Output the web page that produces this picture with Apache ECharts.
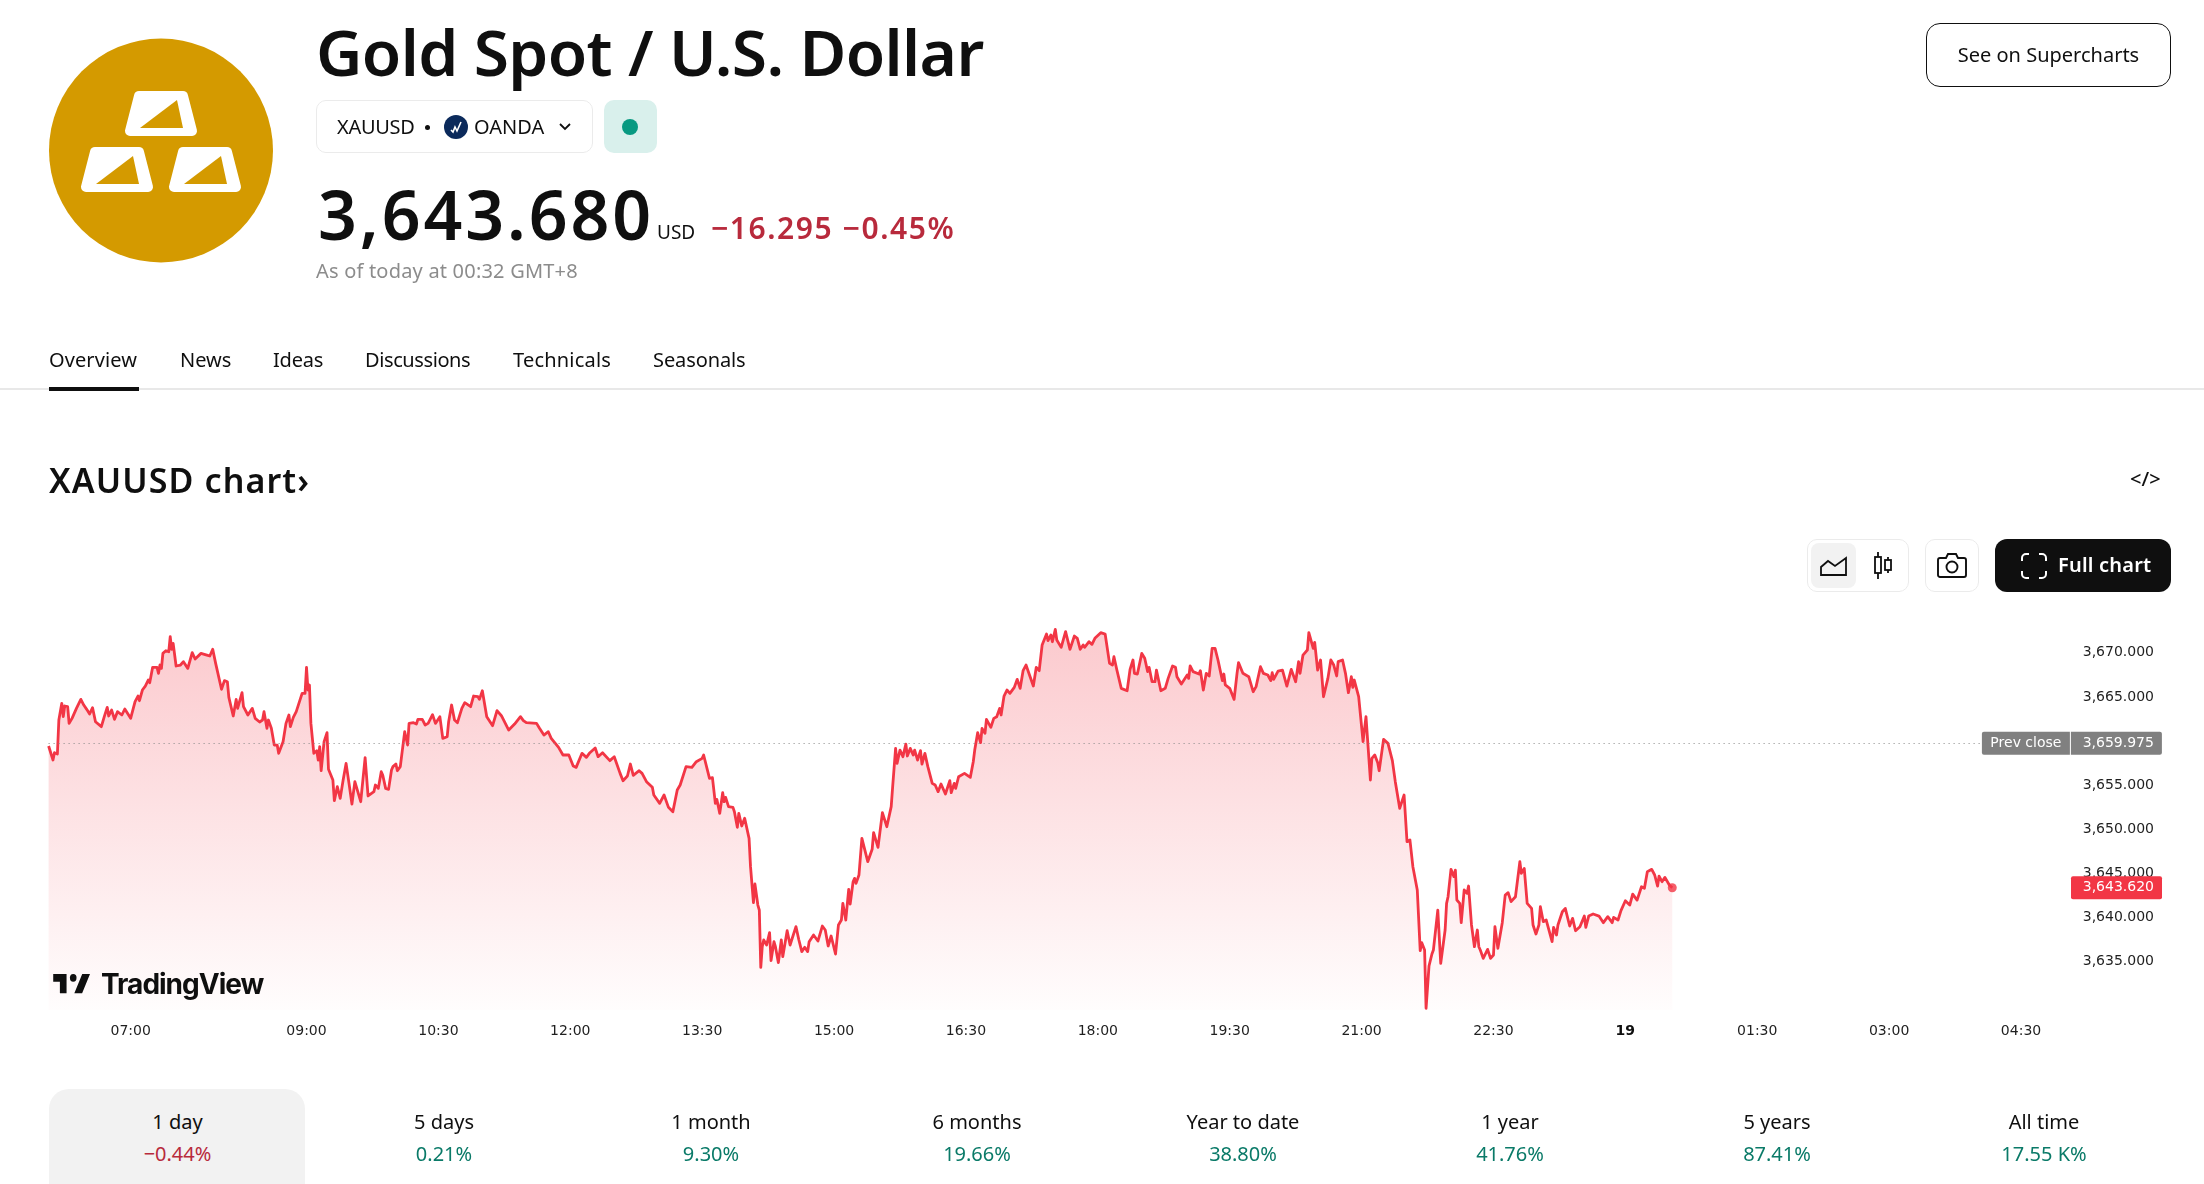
<!DOCTYPE html>
<html><head><meta charset="utf-8">
<script src="https://cdn.jsdelivr.net/npm/echarts@6/dist/echarts.min.js"></script>
<style>
html,body{margin:0;padding:0;background:#fff;width:2204px;height:1184px;overflow:hidden}
#chart{position:absolute;left:0;top:0;width:2204px;height:1184px}
#page{position:absolute;left:0;top:0;width:2204px;height:1184px;pointer-events:none;font-family:"Noto Sans",sans-serif;color:#0f0f0f}
.t{position:absolute;white-space:nowrap}
.box{position:absolute;box-sizing:border-box}
svg{position:absolute;overflow:visible}
</style></head><body>
<div id="chart"></div>
<div id="page">
<svg style="left:49px;top:38px" width="224" height="225" viewBox="0 0 224 225">
 <circle cx="112" cy="112.5" r="112" fill="#d49a00"/>
 <g transform="translate(76,53)"><path d="M14 5H58L67 40H5Z" fill="#fff" stroke="#fff" stroke-width="10" stroke-linejoin="round"/><path d="M52 9 58 37H15Z" fill="#d49a00"/></g>
 <g transform="translate(32,109)"><path d="M14 5H58L67 40H5Z" fill="#fff" stroke="#fff" stroke-width="10" stroke-linejoin="round"/><path d="M52 9 58 37H15Z" fill="#d49a00"/></g>
 <g transform="translate(120,109)"><path d="M14 5H58L67 40H5Z" fill="#fff" stroke="#fff" stroke-width="10" stroke-linejoin="round"/><path d="M52 9 58 37H15Z" fill="#d49a00"/></g>
</svg>
<div class="t" style="left:316px;top:8px;font-size:64px;line-height:88px;font-weight:600;letter-spacing:-.62px">Gold Spot / U.S. Dollar</div>
<div class="box" style="left:316px;top:100px;width:277px;height:53px;border:1px solid #ebebeb;border-radius:10px"></div>
<div class="t" style="left:337px;top:112px;font-size:20px;line-height:30px;letter-spacing:-.3px">XAUUSD</div>
<div class="box" style="left:425px;top:125px;width:5px;height:5px;border-radius:50%;background:#0f0f0f"></div>
<svg style="left:444px;top:115px" width="24" height="24"><circle cx="12" cy="12" r="12" fill="#0b2a5b"/><path d="M7 15l2 2 2-5 2 4 4-9" fill="none" stroke="#fff" stroke-width="1.6"/></svg>
<div class="t" style="left:474px;top:112px;font-size:20px;line-height:30px">OANDA</div>
<svg style="left:558px;top:121px" width="14" height="12"><path d="M2 3l5 5 5-5" fill="none" stroke="#0f0f0f" stroke-width="1.8"/></svg>
<div class="box" style="left:604px;top:100px;width:53px;height:53px;background:#d9f0ec;border-radius:10px"></div>
<div class="box" style="left:622px;top:119px;width:16px;height:16px;border-radius:50%;background:#089981"></div>
<div class="t" style="left:318px;top:167px;font-size:68px;line-height:94px;font-weight:600;letter-spacing:2.9px">3,643.680</div>
<div class="t" style="left:657px;top:217px;font-size:19px;line-height:30px">USD</div>
<div class="t" style="left:711px;top:206px;font-size:30px;line-height:44px;font-weight:600;letter-spacing:1.55px;color:#b82a3c">−16.295 −0.45%</div>
<div class="t" style="left:316px;top:256px;font-size:20px;line-height:30px;letter-spacing:.2px;color:#8c8c8c">As of today at 00:32 GMT+8</div>
<div class="t" style="left:49px;top:344.5px;font-size:20px;line-height:30px;letter-spacing:.1px">Overview</div>
<div class="t" style="left:180px;top:344.5px;font-size:20px;line-height:30px">News</div>
<div class="t" style="left:273px;top:344.5px;font-size:20px;line-height:30px;letter-spacing:-.2px">Ideas</div>
<div class="t" style="left:365px;top:344.5px;font-size:20px;line-height:30px;letter-spacing:-.4px">Discussions</div>
<div class="t" style="left:513px;top:344.5px;font-size:20px;line-height:30px;letter-spacing:.2px">Technicals</div>
<div class="t" style="left:653px;top:344.5px;font-size:20px;line-height:30px;letter-spacing:-.1px">Seasonals</div>
<div class="box" style="left:0;top:388px;width:2204px;height:2px;background:#e8e8e8"></div>
<div class="box" style="left:49px;top:387px;width:90px;height:4px;background:#0f0f0f"></div>
<div class="t" style="left:49px;top:457px;font-size:34px;line-height:46px;font-weight:600;letter-spacing:1.1px">XAUUSD chart›</div>
<div class="t" style="left:2130px;top:464px;font-size:20px;line-height:30px;font-weight:500">&lt;/&gt;</div>
<div class="box" style="left:1926px;top:23px;width:245px;height:64px;border:1.5px solid #0f0f0f;border-radius:14px"></div>
<div class="t" style="left:1926px;top:40px;width:245px;text-align:center;font-size:20px;line-height:30px">See on Supercharts</div>
<div class="box" style="left:1807px;top:539px;width:102px;height:53px;border:1px solid #ebebeb;border-radius:10px"></div>
<div class="box" style="left:1811px;top:543px;width:45px;height:45px;background:#f2f2f2;border-radius:8px"></div>
<svg style="left:1820px;top:556px" width="28" height="20" fill="none" stroke="#0f0f0f" stroke-width="1.8"><path d="M1 19V11L8 5l7 5 11-8v17Z"/></svg>
<svg style="left:1873px;top:552px" width="20" height="28" fill="none" stroke="#0f0f0f" stroke-width="1.8"><path d="M5 0v27M15 5v16"/><rect x="2" y="5" width="6" height="16" fill="#fff"/><rect x="12" y="8" width="6" height="10" fill="#fff"/></svg>
<div class="box" style="left:1925px;top:539px;width:54px;height:53px;border:1px solid #ebebeb;border-radius:10px"></div>
<svg style="left:1937px;top:553px" width="30" height="26" fill="none" stroke="#0f0f0f" stroke-width="1.9"><path d="M3 5h6l2-4h8l2 4h6a2 2 0 0 1 2 2v15a2 2 0 0 1-2 2H3a2 2 0 0 1-2-2V7a2 2 0 0 1 2-2Z"/><circle cx="15" cy="14" r="5.5"/></svg>
<div class="box" style="left:1995px;top:539px;width:176px;height:53px;background:#0f0f0f;border-radius:12px"></div>
<svg style="left:2021px;top:553px" width="26" height="26" fill="none" stroke="#fff" stroke-width="2"><path d="M1 8V5a4 4 0 0 1 4-4h3M18 1h3a4 4 0 0 1 4 4v3M25 18v3a4 4 0 0 1-4 4h-3M8 25H5a4 4 0 0 1-4-4v-3"/></svg>
<div class="t" style="left:2058px;top:550px;font-size:20px;line-height:30px;font-weight:600;letter-spacing:.2px;color:#fff">Full chart</div>
<svg style="left:51px;top:974px" width="40" height="20" viewBox="0 6 36 15.5" preserveAspectRatio="none" fill="#0f0f0f"><path d="M14 6H2v6h6v9h6V6Zm14 15h-7l7.1-15h7L28 21Z"/><circle cx="20" cy="9" r="3"/></svg>
<div class="t" style="left:101px;top:964px;font-family:Inter,sans-serif;font-size:28px;line-height:40px;font-weight:700;letter-spacing:-1px">TradingView</div>
<div class="box" style="left:49px;top:1089px;width:256px;height:120px;background:#f2f2f2;border-radius:20px"></div>
<div id="periods"></div>
</div>
<script>
// [minutes since midnight of 18th (GMT+8), price]
const pricePoints = [
[364,3659.67],[367,3658.08],[368,3658.91],[370,3658.76],[371,3662.61],[373,3664.50],[374,3662.99],[375,3664.20],[377,3664.12],[378,3662.23],
[380,3662.80],[381,3662.61],[383,3663.93],[386,3664.95],[388,3664.31],[390,3663.82],[392,3663.29],[394,3664.01],[396,3662.42],[400,3661.86],
[402,3662.99],[404,3664.05],[405,3663.07],[407,3663.74],[409,3662.69],[411,3663.56],[414,3663.18],[416,3663.86],[420,3662.80],[421,3662.99],
[423,3664.69],[425,3665.33],[426,3664.80],[428,3666.01],[430,3666.46],[432,3667.14],[433,3666.84],[435,3668.58],[438,3668.58],[439,3667.90],
[440,3668.84],[441,3668.46],[442,3670.16],[444,3670.46],[446,3670.35],[447,3672.05],[448,3670.62],[449,3671.29],[451,3668.73],[454,3668.84],
[456,3669.22],[459,3668.46],[462,3670.24],[464,3669.52],[468,3670.16],[472,3669.97],[474,3669.86],[476,3670.62],[478,3669.03],[479,3668.84],
[482,3666.09],[484,3667.07],[486,3666.95],[487,3665.18],[490,3663.07],[492,3664.95],[493,3663.93],[496,3665.71],[497,3664.12],[500,3663.18],
[503,3663.93],[505,3662.80],[508,3662.39],[510,3662.61],[511,3663.56],[513,3661.67],[514,3662.61],[516,3661.67],[518,3659.78],[520,3659.78],
[521,3658.84],[524,3660.16],[526,3662.23],[528,3663.18],[529,3661.86],[531,3662.91],[533,3663.56],[537,3665.63],[539,3665.63],[540,3668.58],
[541,3666.01],[542,3666.58],[543,3662.23],[545,3658.84],[547,3659.14],[548,3658.08],[549,3659.59],[550,3656.87],[552,3660.16],[554,3661.18],
[555,3657.03],[556,3656.95],[558,3655.82],[559,3653.48],[561,3655.06],[563,3653.74],[565,3655.82],[567,3657.70],[569,3655.44],[571,3653.10],
[573,3655.63],[575,3654.50],[577,3653.36],[580,3658.35],[582,3654.01],[586,3654.50],[587,3655.25],[589,3654.87],[591,3656.76],[592,3656.38],
[594,3654.87],[596,3654.76],[598,3656.95],[599,3657.33],[601,3657.63],[602,3656.87],[604,3657.33],[607,3661.29],[609,3659.78],[610,3662.23],
[613,3662.31],[615,3662.16],[616,3662.69],[619,3662.69],[621,3662.05],[623,3662.23],[626,3663.22],[628,3662.23],[631,3662.99],[633,3660.54],
[636,3660.72],[637,3662.42],[639,3664.31],[641,3662.61],[643,3662.31],[646,3663.93],[648,3664.58],[652,3664.12],[654,3665.33],[657,3665.25],
[658,3664.95],[660,3665.93],[663,3662.99],[667,3661.97],[670,3663.67],[673,3663.10],[678,3661.48],[682,3662.16],[686,3662.99],[688,3662.54],
[690,3662.31],[697,3662.23],[699,3661.67],[702,3660.91],[705,3661.29],[707,3660.54],[712,3659.52],[715,3658.65],[719,3658.65],[722,3657.40],
[724,3657.25],[728,3658.84],[731,3658.38],[733,3658.84],[737,3659.44],[739,3658.46],[742,3658.91],[747,3658.01],[750,3658.46],[754,3656.57],
[756,3655.74],[759,3656.27],[761,3657.63],[763,3656.35],[767,3656.87],[769,3656.57],[772,3655.63],[776,3654.99],[777,3654.12],[781,3653.17],
[784,3654.12],[787,3652.72],[790,3652.23],[791,3652.42],[793,3654.68],[795,3655.25],[799,3657.33],[803,3657.25],[806,3657.89],[810,3658.27],
[811,3658.65],[812,3658.54],[815,3656.01],[817,3656.08],[819,3653.17],[820,3653.63],[822,3652.04],[824,3654.38],[825,3653.36],[826,3653.85],
[828,3652.80],[831,3652.72],[832,3652.23],[834,3650.46],[835,3652.04],[837,3650.61],[839,3651.48],[842,3649.21],[843,3646.00],[845,3641.93],
[846,3644.04],[848,3641.66],[849,3641.09],[850,3634.60],[851,3636.94],[852,3637.70],[854,3637.13],[856,3638.53],[857,3635.36],[859,3637.51],
[860,3636.94],[862,3635.13],[863,3635.24],[864,3637.70],[865,3635.81],[868,3638.75],[870,3637.13],[874,3639.21],[876,3637.70],[878,3636.38],
[880,3636.87],[882,3636.38],[883,3637.51],[886,3638.26],[889,3637.58],[892,3639.28],[894,3638.83],[896,3637.02],[898,3638.15],[901,3636.11],
[903,3639.40],[905,3639.96],[906,3641.85],[908,3639.96],[910,3643.44],[911,3641.77],[913,3644.30],[914,3644.68],[915,3644.11],[917,3645.06],
[919,3649.21],[920,3649.10],[923,3646.57],[926,3647.97],[927,3649.85],[928,3649.85],[930,3648.19],[933,3652.12],[936,3650.53],[939,3652.80],
[940,3655.06],[942,3659.40],[943,3657.70],[945,3659.21],[947,3658.46],[949,3659.89],[950,3658.54],[952,3659.40],[954,3658.65],[955,3659.21],
[957,3658.08],[959,3659.14],[960,3657.63],[962,3658.84],[964,3657.33],[967,3655.44],[969,3655.25],[971,3654.50],[973,3655.36],[976,3654.23],
[979,3655.74],[980,3654.38],[982,3655.44],[983,3654.87],[985,3656.19],[989,3656.57],[993,3656.12],[995,3657.89],[996,3659.21],[998,3661.18],
[1000,3660.05],[1001,3661.67],[1003,3661.10],[1004,3662.69],[1007,3661.78],[1009,3662.80],[1011,3662.99],[1013,3663.93],[1014,3663.18],[1016,3665.33],
[1018,3666.01],[1020,3665.63],[1023,3666.31],[1025,3667.22],[1027,3666.20],[1029,3668.20],[1031,3668.84],[1036,3666.46],[1038,3668.58],[1040,3668.20],
[1042,3671.11],[1045,3672.35],[1046,3671.60],[1048,3672.24],[1049,3671.48],[1051,3672.88],[1052,3671.67],[1055,3670.84],[1058,3672.62],[1061,3670.62],
[1064,3672.13],[1066,3671.86],[1068,3670.62],[1070,3671.11],[1071,3670.84],[1074,3671.48],[1076,3671.18],[1078,3671.86],[1082,3672.50],[1085,3672.35],
[1088,3669.03],[1090,3668.84],[1091,3669.78],[1093,3668.27],[1096,3666.20],[1100,3665.93],[1102,3668.35],[1104,3669.41],[1105,3667.90],[1107,3667.82],
[1110,3670.16],[1112,3669.60],[1114,3668.09],[1115,3668.58],[1117,3666.95],[1119,3666.95],[1120,3668.27],[1123,3665.93],[1126,3666.20],[1128,3667.33],
[1131,3668.73],[1133,3668.58],[1134,3667.52],[1137,3666.69],[1141,3667.71],[1142,3667.33],[1143,3668.73],[1145,3668.09],[1149,3667.82],[1150,3668.20],
[1152,3666.01],[1154,3667.90],[1156,3667.60],[1158,3670.73],[1160,3670.73],[1162,3669.41],[1165,3667.07],[1166,3667.82],[1167,3666.58],[1170,3666.20],
[1173,3664.95],[1175,3667.90],[1176,3669.11],[1179,3667.90],[1183,3667.52],[1186,3665.82],[1188,3666.39],[1191,3668.65],[1193,3667.90],[1196,3667.71],
[1198,3667.07],[1199,3667.97],[1200,3667.22],[1203,3668.16],[1206,3668.27],[1209,3666.46],[1212,3668.35],[1215,3666.95],[1217,3669.22],[1218,3667.90],
[1220,3669.97],[1223,3670.54],[1224,3672.50],[1227,3670.73],[1228,3671.41],[1229,3671.41],[1230,3668.27],[1232,3669.41],[1234,3665.25],[1237,3667.33],
[1239,3669.41],[1241,3668.84],[1243,3667.60],[1244,3669.22],[1247,3669.41],[1249,3667.90],[1251,3665.71],[1253,3667.52],[1254,3666.31],[1255,3667.14],
[1258,3665.25],[1261,3660.16],[1263,3662.99],[1264,3662.99],[1266,3655.82],[1267,3658.27],[1269,3658.65],[1271,3657.78],[1272,3656.87],[1275,3660.42],
[1278,3659.97],[1281,3658.01],[1283,3655.63],[1284,3655.63],[1286,3652.61],[1289,3654.12],[1291,3648.83],[1293,3649.02],[1295,3646.00],[1298,3643.36],
[1300,3636.49],[1301,3637.40],[1303,3636.56],[1304,3629.96],[1306,3634.75],[1308,3636.11],[1309,3636.56],[1312,3641.09],[1314,3635.05],[1317,3638.83],
[1318,3641.85],[1319,3642.60],[1321,3645.70],[1323,3644.87],[1324,3645.62],[1325,3642.23],[1327,3641.85],[1328,3639.66],[1330,3643.36],[1332,3642.98],
[1333,3643.81],[1335,3639.40],[1337,3636.94],[1339,3638.83],[1340,3636.94],[1341,3636.56],[1343,3635.62],[1346,3636.64],[1348,3635.62],[1350,3636.00],
[1351,3639.21],[1353,3636.75],[1356,3639.66],[1358,3642.79],[1360,3643.06],[1362,3642.04],[1365,3642.60],[1368,3646.57],[1369,3645.25],[1371,3645.81],
[1373,3641.85],[1376,3641.28],[1377,3639.40],[1379,3638.38],[1381,3639.40],[1382,3641.47],[1384,3639.77],[1386,3639.96],[1390,3637.51],[1391,3639.13],
[1393,3638.26],[1394,3639.39],[1397,3640.90],[1399,3641.28],[1402,3639.28],[1404,3640.15],[1406,3638.75],[1409,3639.20],[1412,3640.41],[1413,3639.13],
[1415,3640.41],[1418,3640.64],[1422,3640.41],[1425,3639.66],[1428,3640.34],[1431,3639.66],[1432,3640.26],[1435,3639.96],[1437,3641.02],[1440,3642.15],
[1443,3641.66],[1445,3642.90],[1448,3642.22],[1451,3643.73],[1453,3643.55],[1455,3645.43],[1458,3645.70],[1460,3645.06],[1462,3643.81],[1463,3644.94],
[1465,3644.30],[1467,3644.79],[1470,3643.92],[1472,3643.62]
];
const xTickMinutes = [420,540,630,720,810,900,990,1080,1170,1260,1350,1440,1530,1620,1710];
const xTickLabels = ['07:00','09:00','10:30','12:00','13:30','15:00','16:30','18:00','19:30','21:00','22:30','19','01:30','03:00','04:30'];
const yTickValues = [3635,3640,3645,3650,3655,3665,3670];
const prevClose = 3659.975;
const lastPrice = 3643.62;
const periodNames = ['1 day','5 days','1 month','6 months','Year to date','1 year','5 years','All time'];
const periodChanges = ['−0.44%','0.21%','9.30%','19.66%','38.80%','41.76%','87.41%','17.55 K%'];

const periodCenters = [177.5,444,711,977,1243,1510,1777,2044];
const fmt = v => v.toLocaleString('en-US',{minimumFractionDigits:3,maximumFractionDigits:3});
const pHost = document.getElementById('periods');
periodNames.forEach((n,i)=>{
  const a=document.createElement('div');a.className='t';a.textContent=n;
  a.style.cssText=`left:${periodCenters[i]-100}px;width:200px;text-align:center;top:1107px;font-size:20px;line-height:30px`;
  const b=document.createElement('div');b.className='t';b.textContent=periodChanges[i];
  b.style.cssText=`left:${periodCenters[i]-100}px;width:200px;text-align:center;top:1138.5px;font-size:20px;line-height:30px;color:${periodChanges[i][0]==='−'?'#b82a3c':'#0a7a68'}`;
  pHost.appendChild(a);pHost.appendChild(b);
});

const AX_MIN=364, AX_MAX=1736.6, RED='#f23645', FONT='"DejaVu Sans"';
const chart = echarts.init(document.getElementById('chart'),null,{renderer:'canvas',width:2204,height:1184});
chart.setOption({
  animation:false,
  backgroundColor:'#fff',
  grid:{left:48.6,width:2011.4,top:620,height:390,containLabel:false},
  xAxis:{type:'value',min:AX_MIN,max:AX_MAX,
    axisLine:{show:false},axisTick:{show:false},splitLine:{show:false},
    axisLabel:{customValues:xTickMinutes,margin:14,color:'#1f1f1f',fontFamily:FONT,fontSize:14,
      hideOverlap:false,showMinLabel:true,showMaxLabel:true,
      formatter:v=>{const s=xTickLabels[xTickMinutes.indexOf(v)];return s==='19'?'{b|19}':s;},
      rich:{b:{fontFamily:FONT,fontSize:14,fontWeight:'bold',color:'#0f0f0f'}}}},
  yAxis:{type:'value',position:'right',min:3629.77,max:3673.94,
    axisLine:{show:false},axisTick:{show:false},splitLine:{show:false},
    axisLabel:{customValues:yTickValues,inside:false,margin:94,align:'right',verticalAlign:'bottom',lineHeight:4,color:'#1f1f1f',fontFamily:FONT,fontSize:14,
      showMinLabel:true,showMaxLabel:true,hideOverlap:false,formatter:fmt}},
  series:[
   {type:'line',data:pricePoints,showSymbol:false,symbol:'none',smooth:false,clip:false,z:3,
    lineStyle:{color:RED,width:2.8,join:'round'},
    areaStyle:{color:new echarts.graphic.LinearGradient(0,0,0,1,[
      {offset:0,color:'rgba(242,54,69,0.38)'},{offset:1,color:'rgba(242,54,69,0.015)'}])},
    markLine:{silent:true,symbol:'none',z:6,animation:false,data:[
      [{coord:[AX_MIN,prevClose],lineStyle:{color:'#888',width:1,type:[1,4]},
        label:{show:true,position:'end',distance:0,formatter:'{a|Prev close}{s|}{b|'+fmt(prevClose)+'}',
         rich:{a:{backgroundColor:'#808080',color:'#fff',fontFamily:FONT,fontSize:14,width:88,height:23,lineHeight:23,align:'center',borderRadius:[2,0,0,2]},
               s:{width:1,height:23},
               b:{backgroundColor:'#808080',color:'#fff',fontFamily:FONT,fontSize:14,width:83,height:23,lineHeight:23,padding:[0,8,0,0],align:'right',borderRadius:[0,2,2,0]}}}},
       {coord:[1683.3,prevClose]}],
      [{coord:[AX_MAX-1,lastPrice],lineStyle:{color:'rgba(0,0,0,0)',width:0},
        label:{show:true,position:'end',distance:11,opacity:1,formatter:'{b|'+fmt(lastPrice)+'}',
         rich:{b:{backgroundColor:RED,color:'#fff',fontFamily:FONT,fontSize:14,width:83,height:23,lineHeight:23,padding:[0,8,0,0],align:'right',borderRadius:2}}}},
       {coord:[AX_MAX,lastPrice]}]
    ]}},
   {type:'scatter',data:[pricePoints[pricePoints.length-1]],symbolSize:9,itemStyle:{color:RED},z:5,silent:true}
  ]
});
</script>
</body></html>
